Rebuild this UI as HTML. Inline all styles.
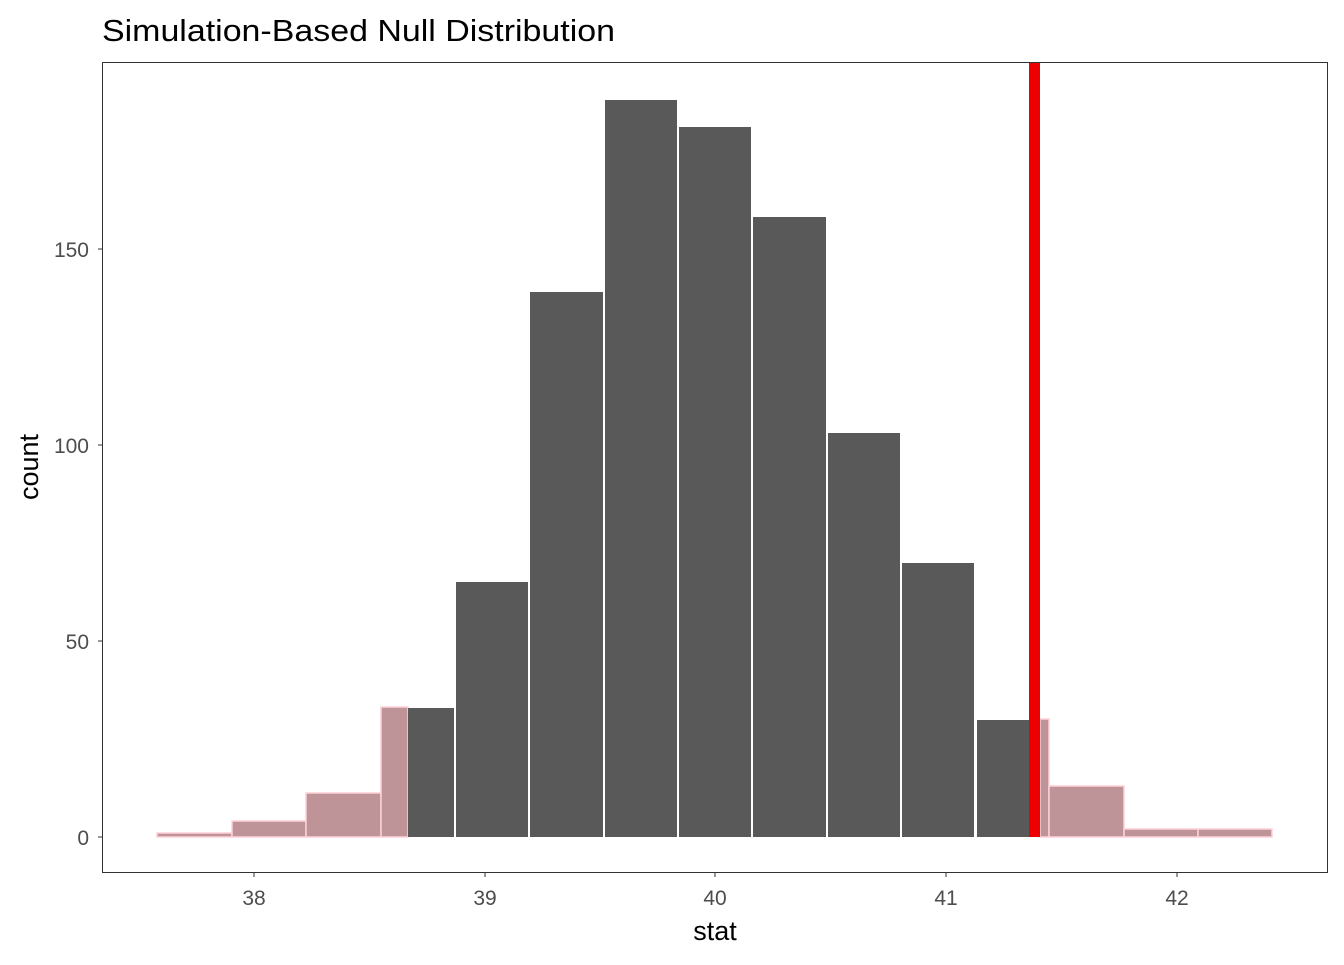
<!DOCTYPE html>
<html><head><style>body{margin:0;background:#fff}</style></head><body>
<svg width="1344" height="960" xmlns="http://www.w3.org/2000/svg" font-family="Liberation Sans, sans-serif">
<rect width="1344" height="960" fill="#fff"/>
<text x="102" y="41" font-size="31" fill="#000" textLength="513" lengthAdjust="spacingAndGlyphs">Simulation-Based Null Distribution</text>
<g stroke="#ffd1d9" stroke-width="1.5" fill="#bf9499">
<rect x="157" y="833" width="75" height="4"/>
<rect x="232" y="821" width="74" height="16"/>
<rect x="306" y="793" width="75" height="44"/>
<rect x="381" y="707" width="27" height="130"/>
<rect x="1040" y="719" width="9" height="118"/>
<rect x="1049" y="786" width="75" height="51"/>
<rect x="1124" y="829" width="74" height="8"/>
<rect x="1198" y="829" width="74" height="8"/>
</g>
<g fill="#595959">
<rect x="408" y="708" width="46" height="129"/>
<rect x="456" y="582" width="72" height="255"/>
<rect x="530" y="292" width="73" height="545"/>
<rect x="605" y="100" width="72" height="737"/>
<rect x="679" y="127" width="72" height="710"/>
<rect x="753" y="217" width="73" height="620"/>
<rect x="828" y="433" width="72" height="404"/>
<rect x="902" y="563" width="72" height="274"/>
<rect x="977" y="720" width="52" height="117"/>
</g>
<rect x="1029" y="62" width="11" height="775" fill="#ee0000"/>
<rect x="102.5" y="62.5" width="1225" height="810" fill="none" stroke="#333" stroke-width="1"/>
<g stroke="#333" stroke-width="1">
<line x1="98" y1="837" x2="102" y2="837"/><line x1="98" y1="641" x2="102" y2="641"/>
<line x1="98" y1="445" x2="102" y2="445"/><line x1="98" y1="249" x2="102" y2="249"/>
<line x1="254" y1="873" x2="254" y2="877"/><line x1="485" y1="873" x2="485" y2="877"/>
<line x1="715" y1="873" x2="715" y2="877"/><line x1="946" y1="873" x2="946" y2="877"/>
<line x1="1177" y1="873" x2="1177" y2="877"/>
</g>
<g font-size="21" fill="#4d4d4d" text-anchor="end">
<text x="89" y="845">0</text><text x="89" y="649">50</text>
<text x="89" y="453">100</text><text x="89" y="257">150</text>
</g>
<g font-size="21" fill="#4d4d4d" text-anchor="middle">
<text x="254" y="905">38</text><text x="485" y="905">39</text>
<text x="715" y="905">40</text><text x="946" y="905">41</text><text x="1177" y="905">42</text>
</g>
<text x="715" y="940" font-size="27" text-anchor="middle">stat</text>
<text transform="translate(38,467) rotate(-90)" font-size="27" text-anchor="middle">count</text>
</svg>
</body></html>
